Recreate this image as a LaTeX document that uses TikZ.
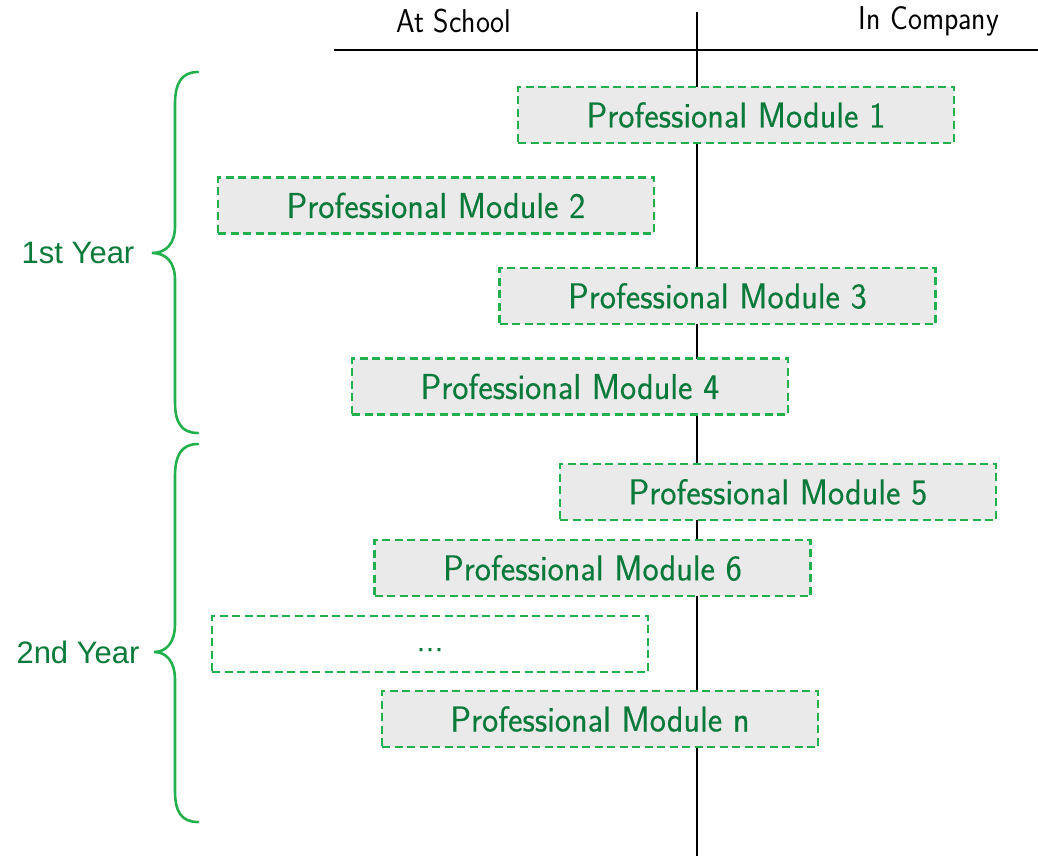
\documentclass[tikz,border=0pt]{standalone}
\usepackage{fontspec}
\newfontfamily\arialf{Liberation Sans}
\newfontfamily\modfont[FakeBold=0.3]{Latin Modern Sans}
\usepackage{graphicx}
\definecolor{boxgreen}{HTML}{22B04C}
\definecolor{txtgreen}{HTML}{0A7A3A}
\definecolor{boxfill}{HTML}{EAEAEA}
\newcommand{\modtxt}[1]{\scalebox{0.955}[1]{\modfont\fontsize{36}{40}\selectfont #1}}
\newcommand{\headtxt}[1]{\scalebox{0.9}[1]{\sffamily\fontsize{33}{38}\selectfont #1}}
\begin{document}
\begin{tikzpicture}[x=1pt,y=-1pt,
  modbox/.style={draw=boxgreen, line width=2.4pt, dash pattern=on 8pt off 4.5pt, fill=boxfill,
    minimum width=436pt, minimum height=56pt, inner sep=0pt, text=txtgreen},
  dotbox/.style={modbox, fill=white},
  yearlbl/.style={text=txtgreen, font=\arialf\fontsize{31}{35}\selectfont, inner sep=0pt},
  headlbl/.style={inner sep=0pt},
  bracepath/.style={draw=boxgreen, line width=2.6pt, line cap=round}]
\useasboundingbox (0,0) rectangle (1038,856);
% axes
\coordinate (vtop) at (697,12);
\coordinate (vbot) at (697,856);
\coordinate (hl) at (334,50);
\coordinate (hr) at (1038,50);
\draw[line width=2.2pt] (vtop) -- (vbot);
\draw[line width=2.2pt] (hl) -- (hr);
\node[headlbl] (school) at (454,21) {\headtxt{At School}};
\node[headlbl] (company) at (929,21) {\headtxt{In Company}};
% modules
\node[modbox] (m1) at (736,115) {\modtxt{Professional Module 1}};
\node[modbox] (m2) at (436,205.5) {\modtxt{Professional Module 2}};
\node[modbox] (m3) at (717.5,296) {\modtxt{Professional Module 3}};
\node[modbox] (m4) at (570,386.5) {\modtxt{Professional Module 4}};
\node[modbox] (m5) at (778,492) {\modtxt{Professional Module 5}};
\node[modbox] (m6) at (592.5,568) {\modtxt{Professional Module 6}};
\node[dotbox] (md) at (430,644) {\raisebox{-7pt}[0pt][0pt]{\modtxt{...}}};
\node[modbox] (mn) at (600,719) {\modtxt{Professional Module n}};
% braces
\draw[bracepath] (198,72) .. controls (181,72) and (175,84) .. (175,104)
  -- (175,226) .. controls (175,244) and (166,253) .. (152,253)
  .. controls (166,253) and (175,262) .. (175,280)
  -- (175,402) .. controls (175,422) and (181,433) .. (198,433);
\draw[bracepath] (198,444) .. controls (181,444) and (175,456) .. (175,476)
  -- (175,624) .. controls (175,643) and (166,652) .. (154,652)
  .. controls (166,652) and (175,661) .. (175,680)
  -- (175,791) .. controls (175,811) and (181,822) .. (198,822);
\node[yearlbl] (y1) at (78,253) {1st Year};
\node[yearlbl] (y2) at (78,652) {2nd Year};
\end{tikzpicture}
\end{document}
